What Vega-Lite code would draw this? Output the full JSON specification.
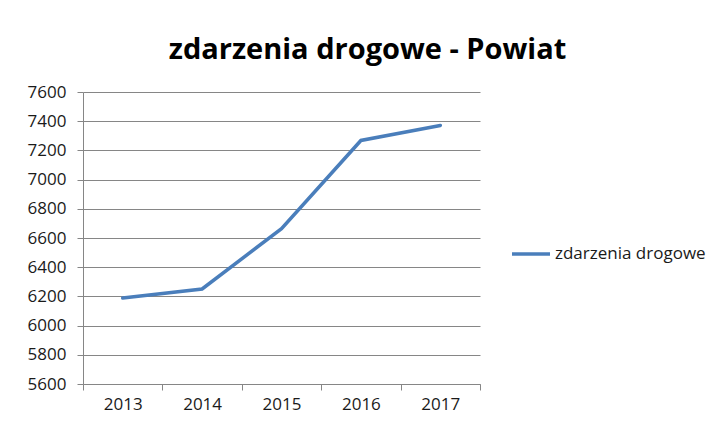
{
  "$schema": "https://vega.github.io/schema/vega-lite/v6.json",
  "width": 397,
  "height": 292,
  "autosize": {"type": "none"},
  "padding": {"left": 83, "top": 92, "right": 233, "bottom": 45},
  "background": "white",
  "title": {
    "text": "zdarzenia drogowe - Powiat",
    "font": "Open Sans",
    "fontSize": 29,
    "fontWeight": "bold",
    "color": "#000000",
    "anchor": "middle",
    "frame": "group",
    "dx": 86,
    "offset": 18
  },
  "data": {
    "values": [
      {"year": "2013", "value": 6189, "series": "zdarzenia drogowe"},
      {"year": "2014", "value": 6251, "series": "zdarzenia drogowe"},
      {"year": "2015", "value": 6664, "series": "zdarzenia drogowe"},
      {"year": "2016", "value": 7268, "series": "zdarzenia drogowe"},
      {"year": "2017", "value": 7371, "series": "zdarzenia drogowe"}
    ]
  },
  "mark": {"type": "line", "strokeWidth": 3.5, "strokeCap": "round", "strokeJoin": "miter"},
  "encoding": {
    "x": {
      "field": "year",
      "type": "ordinal",
      "bandPosition": 0.5,
      "scale": {"type": "band", "paddingInner": 0, "paddingOuter": 0},
      "axis": {
        "title": null,
        "labelAngle": 0,
        "tickBand": "extent",
        "grid": false,
        "domainColor": "#868686",
        "tickColor": "#868686",
        "tickSize": 6,
        "labelFont": "Open Sans",
        "labelFontSize": 17,
        "labelColor": "#1a1a1a",
        "labelPadding": 6
      }
    },
    "y": {
      "field": "value",
      "type": "quantitative",
      "scale": {"domain": [5600, 7600], "nice": false, "zero": false},
      "axis": {
        "title": null,
        "values": [5600, 5800, 6000, 6200, 6400, 6600, 6800, 7000, 7200, 7400, 7600],
        "format": "d",
        "grid": true,
        "gridColor": "#868686",
        "gridWidth": 1,
        "domainColor": "#868686",
        "tickColor": "#868686",
        "tickSize": 6,
        "labelFont": "Open Sans",
        "labelFontSize": 17,
        "labelColor": "#1a1a1a",
        "labelPadding": 11
      }
    },
    "color": {
      "field": "series",
      "type": "nominal",
      "scale": {"range": ["#4A7EBB"]},
      "legend": {
        "title": null,
        "orient": "none",
        "legendX": 427,
        "legendY": 141,
        "symbolType": "stroke",
        "symbolSize": 1444,
        "symbolStrokeWidth": 3.5,
        "labelFont": "Open Sans",
        "labelFontSize": 17,
        "labelColor": "#1a1a1a",
        "labelOffset": 3,
        "padding": 0
      }
    }
  },
  "config": {"view": {"stroke": null}}
}
